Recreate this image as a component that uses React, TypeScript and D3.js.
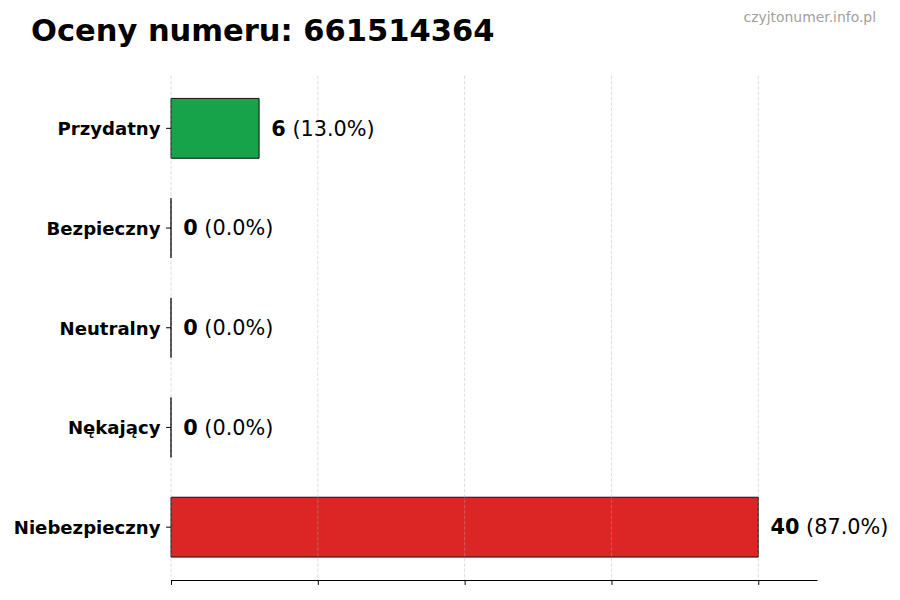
import React, { useRef, useEffect } from 'react';
import * as d3 from 'd3';

const CATEGORIES = ['Przydatny', 'Bezpieczny', 'Neutralny', 'Nękający', 'Niebezpieczny'];
const COUNTS = [6, 0, 0, 0, 40];
const PERCENTS = [13.0, 0.0, 0.0, 0.0, 87.0];
const COLORS = ['#16a34a', '#16a34a', '#9ca3af', '#dc2626', '#dc2626'];
const X_TICKS = [0, 10, 20, 30, 40];

const TITLE = 'Oceny numeru: 661514364';
const WATERMARK = 'czyjtonumer.info.pl';

const W = 900;
const H = 600;
const FONT = '"DejaVu Sans", Verdana, sans-serif';

const App: React.FC = () => {
    const ref = useRef<SVGSVGElement>(null);

    useEffect(() => {
        if (!ref.current) return;
        const svg = d3.select(ref.current);
        svg.selectAll('*').remove();

        const left = 171;
        const right = 817;
        const top = 75.5;
        const bottom = 580;

        const maxVal = d3.max(COUNTS) || 1;
        const x = d3.scaleLinear().domain([0, maxVal * 1.1]).range([left, right]);
        // matplotlib style: bars of height 0.6 plus 5% margins
        const y = d3.scaleLinear().domain([-0.53, CATEGORIES.length - 1 + 0.53]).range([top, bottom]);
        const barH = y(0.6) - y(0);

        svg.append('rect').attr('width', W).attr('height', H).attr('fill', '#fff');

        // bars (paths so zero-width bars still show their edge)
        svg.append('g')
            .selectAll('path')
            .data(COUNTS)
            .join('path')
            .attr('d', (d, i) => {
                const x0 = x(0), x1 = x(d);
                const y0 = y(i) - barH / 2, y1 = y(i) + barH / 2;
                return `M${x0},${y0}H${x1}V${y1}H${x0}Z`;
            })
            .attr('fill', (d, i) => COLORS[i])
            .attr('stroke', '#111')
            .attr('stroke-width', 1);

        // grid on top, faint
        svg.append('g')
            .selectAll('line')
            .data(X_TICKS)
            .join('line')
            .attr('x1', d => x(d))
            .attr('x2', d => x(d))
            .attr('y1', top)
            .attr('y2', bottom)
            .attr('stroke', '#b0b0b0')
            .attr('stroke-opacity', 0.5)
            .attr('stroke-width', 0.8)
            .attr('stroke-dasharray', '3.7,1.6');

        // bottom axis, no labels
        const xAxis = svg.append('g')
            .attr('transform', `translate(0,${bottom})`)
            .call(d3.axisBottom(x).tickValues(X_TICKS).tickFormat(() => '').tickSize(4.9).tickSizeOuter(0));
        xAxis.select('.domain').attr('stroke', '#000').attr('stroke-width', 1);
        xAxis.selectAll('.tick line').attr('stroke', '#000').attr('stroke-width', 1);

        // y ticks and labels
        const yg = svg.append('g');
        yg.selectAll('line')
            .data(CATEGORIES)
            .join('line')
            .attr('x1', left - 4.9)
            .attr('x2', left)
            .attr('y1', (d, i) => y(i))
            .attr('y2', (d, i) => y(i))
            .attr('stroke', '#000')
            .attr('stroke-width', 1);
        yg.selectAll('text')
            .data(CATEGORIES)
            .join('text')
            .attr('x', left - 10.5)
            .attr('y', (d, i) => y(i) + 0.5)
            .attr('dy', '0.35em')
            .attr('text-anchor', 'end')
            .attr('font-family', FONT)
            .attr('font-size', 18.1)
            .attr('font-weight', 'bold')
            .attr('fill', '#000')
            .text(d => d);

        // value labels
        const vl = svg.append('g')
            .selectAll('text')
            .data(COUNTS)
            .join('text')
            .attr('x', d => x(d + maxVal * 0.02) + 0.5)
            .attr('y', (d, i) => y(i))
            .attr('dy', '0.35em')
            .attr('font-family', FONT)
            .attr('font-size', 20.8)
            .attr('fill', '#000');
        vl.append('tspan').attr('font-weight', 'bold').text(d => `${d}`);
        vl.append('tspan').text((d, i) => ` (${PERCENTS[i].toFixed(1)}%)`);

        // title + watermark
        svg.append('text')
            .attr('x', 31)
            .attr('y', 41)
            .attr('font-family', FONT)
            .attr('font-size', 30.5)
            .attr('font-weight', 'bold')
            .attr('fill', '#000')
            .text(TITLE);
        svg.append('text')
            .attr('x', 876)
            .attr('y', 22)
            .attr('text-anchor', 'end')
            .attr('font-family', FONT)
            .attr('font-size', 13.9)
            .attr('fill', '#a0a0a0')
            .text(WATERMARK);
    }, []);

    return (
        <svg
            ref={ref}
            width={W}
            height={H}
            style={{ position: 'absolute', left: 0, top: 0, display: 'block' }}
        />
    );
};

export default App;
